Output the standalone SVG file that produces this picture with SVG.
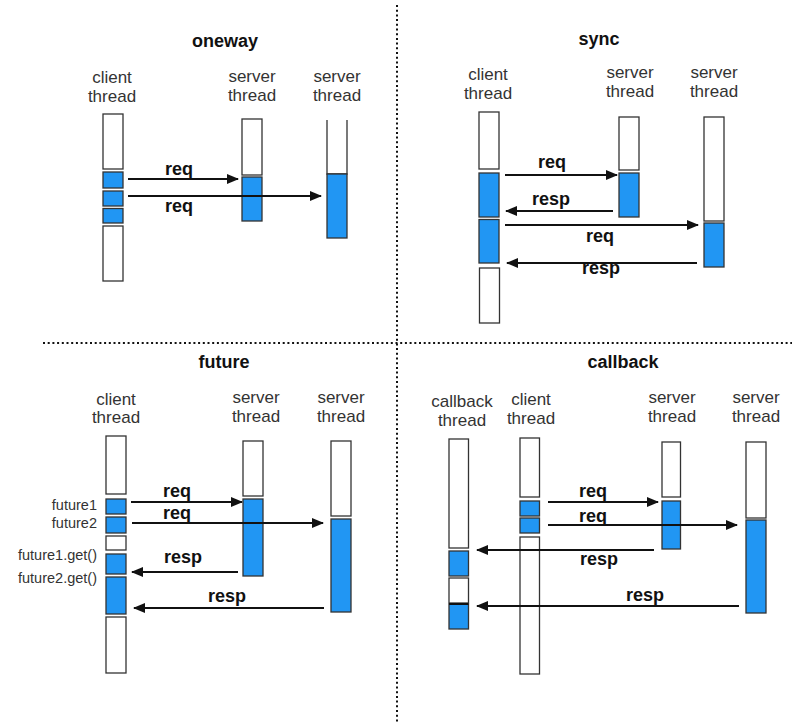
<svg xmlns="http://www.w3.org/2000/svg" width="802" height="728" viewBox="0 0 802 728">
<defs>
<marker id="ah" markerUnits="userSpaceOnUse" markerWidth="12" markerHeight="10" refX="11" refY="5" orient="auto">
<path d="M0,0 L12,5 L0,10 z" fill="#111"/>
</marker>
<style>
.w{fill:#fff;stroke:#333;stroke-width:1.3}
.b{fill:#2196f3;stroke:#333;stroke-width:1.3}
.lbl{font-family:"Liberation Sans",Arial,sans-serif;font-size:17px;fill:#333;text-anchor:middle}
.sm{font-family:"Liberation Sans",Arial,sans-serif;font-size:14.5px;fill:#333;text-anchor:end}
.t{font-family:"Liberation Sans",Arial,sans-serif;font-size:18px;font-weight:bold;fill:#111;text-anchor:middle}
.m{font-family:"Liberation Sans",Arial,sans-serif;font-size:18px;font-weight:bold;fill:#111;text-anchor:middle}
.c{stroke:#111;stroke-width:2;fill:none;marker-end:url(#ah)}
.d{stroke:#111;stroke-width:2;stroke-dasharray:2 2.7;fill:none}
</style>
</defs>
<rect width="802" height="728" fill="#fff"/>
<g id="dividers">
<line class="d" x1="397" y1="5" x2="397" y2="723"/>
<line class="d" x1="43" y1="343" x2="792" y2="343"/>
</g>

<!-- oneway -->
<g id="oneway-title"><text class="t" x="225" y="47">oneway</text></g>
<g id="oneway-client">
<text class="lbl" x="112" y="83">client</text><text class="lbl" x="112" y="102">thread</text>
<rect class="w" x="103" y="114" width="20" height="55"/>
<rect class="b" x="103" y="172" width="20" height="16"/>
<rect class="b" x="103" y="191" width="20" height="15"/>
<rect class="b" x="103" y="208.5" width="20" height="14.5"/>
<rect class="w" x="103" y="226" width="20" height="55"/>
</g>
<g id="oneway-server1">
<text class="lbl" x="252" y="82">server</text><text class="lbl" x="252" y="101">thread</text>
<rect class="w" x="242" y="119" width="20" height="56"/>
<rect class="b" x="242" y="177" width="20" height="44"/>
</g>
<g id="oneway-server2">
<text class="lbl" x="337" y="82">server</text><text class="lbl" x="337" y="101">thread</text>
<path d="M327,120 V174 H347 V120" fill="#fff" stroke="#333" stroke-width="1.3"/>
<rect class="b" x="327" y="174" width="20" height="64"/>
</g>
<g id="oneway-connectors">
<line class="c" x1="128" y1="179" x2="238" y2="179"/>
<text class="m" x="179" y="175">req</text>
<line class="c" x1="128" y1="196" x2="321" y2="196"/>
<text class="m" x="179" y="212">req</text>
</g>

<!-- sync -->
<g id="sync-title"><text class="t" x="599" y="45">sync</text></g>
<g id="sync-client">
<text class="lbl" x="488" y="80">client</text><text class="lbl" x="488" y="99">thread</text>
<rect class="w" x="479" y="112" width="20" height="57"/>
<rect class="b" x="479" y="173" width="20" height="44"/>
<rect class="b" x="479" y="219.5" width="20" height="43.5"/>
<rect class="w" x="479.5" y="268" width="20" height="55"/>
</g>
<g id="sync-server1">
<text class="lbl" x="630" y="78">server</text><text class="lbl" x="630" y="97">thread</text>
<rect class="w" x="619" y="117" width="20" height="53"/>
<rect class="b" x="619" y="173" width="20" height="44"/>
</g>
<g id="sync-server2">
<text class="lbl" x="714" y="78">server</text><text class="lbl" x="714" y="97">thread</text>
<rect class="w" x="704" y="117" width="20" height="104"/>
<rect class="b" x="704" y="223" width="20" height="44"/>
</g>
<g id="sync-connectors">
<line class="c" x1="505" y1="175" x2="617" y2="175"/>
<text class="m" x="552" y="168">req</text>
<line class="c" x1="613" y1="211" x2="506" y2="211"/>
<text class="m" x="551" y="205">resp</text>
<line class="c" x1="505" y1="225" x2="698" y2="225"/>
<text class="m" x="600" y="242">req</text>
<line class="c" x1="697" y1="263" x2="507" y2="263"/>
<text class="m" x="601" y="274">resp</text>
</g>

<!-- future -->
<g id="future-title"><text class="t" x="224" y="368">future</text></g>
<g id="future-client">
<text class="lbl" x="116" y="405">client</text><text class="lbl" x="116" y="423">thread</text>
<rect class="w" x="106" y="436" width="20" height="58"/>
<rect class="b" x="106" y="499" width="20" height="15"/>
<rect class="b" x="106" y="517" width="20" height="16"/>
<rect class="w" x="106" y="536" width="20" height="14"/>
<rect class="b" x="106" y="554" width="20" height="20"/>
<rect class="b" x="106" y="577" width="20" height="37"/>
<rect class="w" x="106" y="617" width="20" height="56"/>
<text class="sm" x="97" y="510">future1</text>
<text class="sm" x="97" y="528">future2</text>
<text class="sm" x="97" y="560">future1.get()</text>
<text class="sm" x="97" y="583">future2.get()</text>
</g>
<g id="future-server1">
<text class="lbl" x="256" y="403">server</text><text class="lbl" x="256" y="422">thread</text>
<rect class="w" x="243" y="441" width="20" height="55"/>
<rect class="b" x="243" y="499" width="20" height="77"/>
</g>
<g id="future-server2">
<text class="lbl" x="341" y="403">server</text><text class="lbl" x="341" y="422">thread</text>
<rect class="w" x="331" y="441" width="20" height="75"/>
<rect class="b" x="331" y="519" width="20" height="93"/>
</g>
<g id="future-connectors">
<line class="c" x1="131" y1="502" x2="242" y2="502"/>
<text class="m" x="177" y="497">req</text>
<line class="c" x1="132" y1="523" x2="323" y2="523"/>
<text class="m" x="177" y="519">req</text>
<line class="c" x1="238" y1="572" x2="132" y2="572"/>
<text class="m" x="183" y="563">resp</text>
<line class="c" x1="324" y1="608" x2="134" y2="608"/>
<text class="m" x="227" y="602">resp</text>
</g>

<!-- callback -->
<g id="callback-title"><text class="t" x="623" y="368">callback</text></g>
<g id="callback-cbthread">
<text class="lbl" x="462" y="407">callback</text><text class="lbl" x="462" y="426">thread</text>
<rect class="w" x="449" y="439" width="19.5" height="109"/>
<rect class="b" x="449" y="551" width="19.5" height="25"/>
<rect class="w" x="449" y="578" width="19.5" height="25"/>
<rect class="b" x="449" y="604" width="19.5" height="25"/>
<line x1="449" y1="604" x2="468.5" y2="604" stroke="#111" stroke-width="2"/>
</g>
<g id="callback-client">
<text class="lbl" x="531" y="405">client</text><text class="lbl" x="531" y="424">thread</text>
<rect class="w" x="520" y="438" width="19.5" height="59"/>
<rect class="b" x="520" y="501" width="19.5" height="15"/>
<rect class="b" x="520" y="518" width="19.5" height="15"/>
<rect class="w" x="520" y="537" width="19.5" height="137"/>
</g>
<g id="callback-server1">
<text class="lbl" x="672" y="403">server</text><text class="lbl" x="672" y="422">thread</text>
<rect class="w" x="662" y="442" width="18.5" height="55"/>
<rect class="b" x="662" y="501" width="18.5" height="48"/>
</g>
<g id="callback-server2">
<text class="lbl" x="756" y="403">server</text><text class="lbl" x="756" y="422">thread</text>
<rect class="w" x="746" y="442" width="20" height="76"/>
<rect class="b" x="746" y="520" width="20" height="93"/>
</g>
<g id="callback-connectors">
<line class="c" x1="548" y1="502" x2="658" y2="502"/>
<text class="m" x="593" y="497">req</text>
<line class="c" x1="548" y1="525" x2="737" y2="525"/>
<text class="m" x="593" y="522">req</text>
<line class="c" x1="654" y1="550" x2="477" y2="550"/>
<text class="m" x="599" y="565">resp</text>
<line class="c" x1="739" y1="606" x2="477" y2="606"/>
<text class="m" x="645" y="601">resp</text>
</g>
</svg>
